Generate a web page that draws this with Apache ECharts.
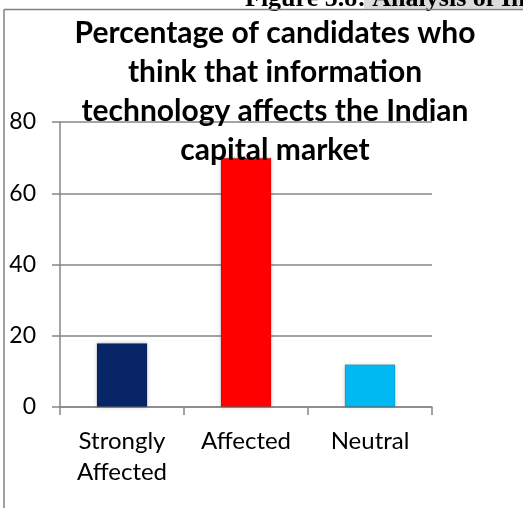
<!DOCTYPE html>
<html>
<head>
<meta charset="utf-8">
<script src="https://cdn.jsdelivr.net/npm/echarts@6/dist/echarts.min.js"></script>
<style>
html,body{margin:0;padding:0;background:#fff;}
#c{width:523px;height:508px;}
</style>
</head>
<body>
<div id="c"></div>
<script>
var categories = ['Strongly\nAffected', 'Affected', 'Neutral'];
var values = [18, 70, 12];
var barColors = ['#082567', '#FF0000', '#00B9F2'];
var yTicks = [0, 20, 40, 60, 80];
var titleText = 'Percentage of candidates who\nthink that information\ntechnology affects the Indian\ncapital market';
var headerText = 'Figure 5.8: Analysis of Information';

var chart = echarts.init(document.getElementById('c'), null, {renderer: 'canvas'});
var font = 'Lato, "Open Sans", sans-serif';
chart.setOption({
  animation: false,
  backgroundColor: '#fff',
  grid: {left: 60, right: 91, top: 122, bottom: 101, containLabel: false},
  title: {
    text: titleText,
    left: 270,
    top: 9,
    textAlign: 'center',
    textStyle: {fontFamily: font, fontWeight: 'bold', fontSize: 30, lineHeight: 39, color: '#000'}
  },
  xAxis: {
    type: 'category',
    data: categories,
    axisLine: {lineStyle: {color: '#868686', width: 1.5}},
    axisTick: {show: true, length: 8, alignWithLabel: false, lineStyle: {color: '#868686', width: 1.5}},
    axisLabel: {fontFamily: font, fontSize: 24, color: '#000', lineHeight: 31, margin: 19, interval: 0}
  },
  yAxis: {
    type: 'value',
    min: yTicks[0],
    max: yTicks[yTicks.length - 1],
    interval: 20,
    axisLine: {show: true, lineStyle: {color: '#868686', width: 1.5}},
    axisTick: {show: true, length: 8, lineStyle: {color: '#868686', width: 1.5}},
    splitLine: {lineStyle: {color: '#868686', width: 1.5}},
    axisLabel: {fontFamily: font, fontSize: 23, color: '#000', margin: 24}
  },
  series: [{
    type: 'bar',
    barWidth: 51,
    data: values.map(function (v, i) {
      return {value: v, itemStyle: {color: barColors[i]}};
    }),
    itemStyle: {
      shadowBlur: 5,
      shadowColor: 'rgba(0,0,0,0.18)',
      borderColor: 'rgba(0,0,0,0.15)',
      borderWidth: 1
    }
  }],
  graphic: [
    {type: 'rect', shape: {x: 364, y: 0, width: 159, height: 8.5}, style: {fill: '#dcdcdc'}, z: 1},
    {type: 'text', x: 245, y: 12, z: 2,
     style: {text: headerText, font: 'bold 26px "Liberation Serif", "DejaVu Serif", serif', fill: '#000', textVerticalAlign: 'bottom', verticalAlign: 'bottom'}},
    {type: 'line', shape: {x1: 4, y1: 9.5, x2: 523, y2: 9.5}, style: {stroke: '#808080', lineWidth: 1.5}, z: 3},
    {type: 'line', shape: {x1: 4, y1: 9.5, x2: 4, y2: 508}, style: {stroke: '#808080', lineWidth: 1.5}, z: 3}
  ]
});
</script>
</body>
</html>
